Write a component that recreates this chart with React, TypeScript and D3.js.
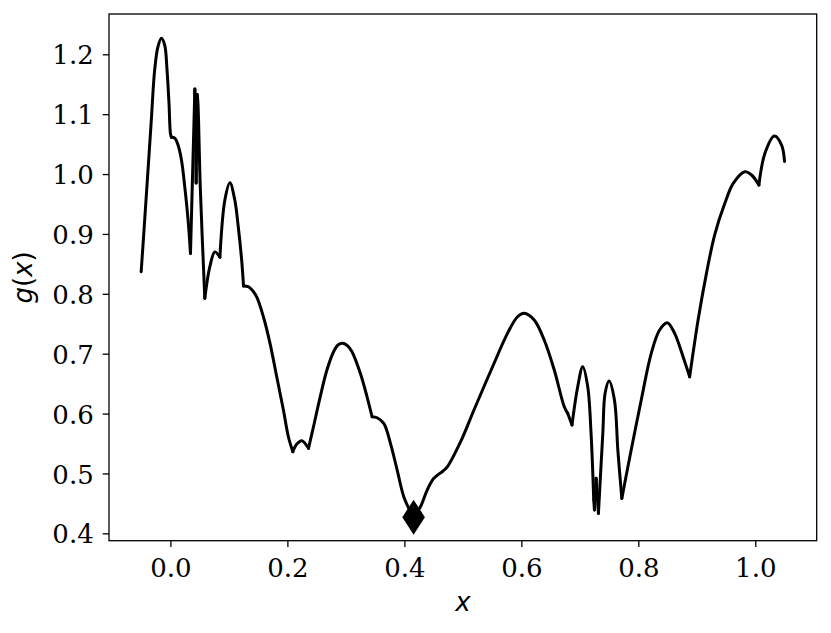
import React, { useRef, useEffect } from "react";
import * as d3 from "d3";

// curve (x, g(x))
const X_VALUES = [
  -0.05, -0.044, -0.033, -0.0269, -0.0213, -0.0154, -0.0098, -0.0058, -0.0024, 0.0,
  0.0017, 0.0074, 0.013, 0.0189, 0.0245, 0.0302, 0.0343, 0.0418, 0.044, 0.0458,
  0.047, 0.051, 0.0588, 0.0674, 0.076, 0.0846, 0.0931, 0.1017, 0.11, 0.116,
  0.1218, 0.125, 0.133, 0.14, 0.1475, 0.159, 0.1703, 0.1818, 0.1932, 0.2017,
  0.2093, 0.2161, 0.2247, 0.2361, 0.2446, 0.2561, 0.2676, 0.279, 0.287, 0.295,
  0.303, 0.3105, 0.3247, 0.3362, 0.3448, 0.3533, 0.3648, 0.3762, 0.3877, 0.399,
  0.4105, 0.4158, 0.4275, 0.439, 0.4504, 0.4648, 0.4734, 0.4962, 0.519, 0.5534,
  0.5763, 0.5935, 0.6048, 0.622, 0.6391, 0.6563, 0.6734, 0.6793, 0.6866, 0.6964,
  0.705, 0.7135, 0.7192, 0.7238, 0.725, 0.7278, 0.7318, 0.7393, 0.7432, 0.7500,
  0.7592, 0.765, 0.7718, 0.7878, 0.805, 0.8221, 0.8364, 0.8496, 0.8621, 0.8765,
  0.8878, 0.9022, 0.9165, 0.9307, 0.9479, 0.9623, 0.9822, 0.9937, 1.0062, 1.0165,
  1.0326, 1.045, 1.05,
];
const G_VALUES = [
  0.837, 0.923, 1.085, 1.174, 1.2127, 1.2267, 1.2155, 1.174, 1.118, 1.068,
  1.0614, 1.06, 1.0485, 1.0235, 0.979, 0.9233, 0.8676, 1.142, 0.985, 1.133,
  1.12, 0.98, 0.7925, 0.8453, 0.87, 0.861, 0.9567, 0.9856, 0.957, 0.912,
  0.8565, 0.813, 0.812, 0.806, 0.795, 0.7617, 0.7173, 0.6615, 0.606, 0.5613,
  0.5363, 0.549, 0.5547, 0.542, 0.578, 0.628, 0.6727, 0.7033, 0.715, 0.7173,
  0.713, 0.7033, 0.6672, 0.628, 0.5947, 0.593, 0.5837, 0.5503, 0.5057, 0.4612,
  0.436, 0.427, 0.4444, 0.4723, 0.4919, 0.503, 0.511, 0.553, 0.606, 0.684,
  0.734, 0.7617, 0.7674, 0.7563, 0.7228, 0.6727, 0.6114, 0.6004, 0.5809, 0.6449,
  0.6783, 0.645, 0.567, 0.4556, 0.439, 0.4919, 0.4334, 0.567, 0.6338, 0.6545,
  0.6227, 0.5391, 0.4584, 0.5391, 0.6227, 0.7006, 0.7395, 0.7517, 0.734, 0.695,
  0.6615, 0.7562, 0.8342, 0.899, 0.9511, 0.9845, 1.004, 0.9984, 0.9817, 1.0347,
  1.0635, 1.0485, 1.021,
];
// kinks and cusps where the curve is not smooth
const KINK_X = [
  0.0017, 0.0343, 0.0418, 0.044, 0.0458, 0.0588, 0.0846, 0.125, 0.2093, 0.2361,
  0.3448, 0.4158, 0.4648, 0.6793, 0.6866, 0.7238, 0.725, 0.7278, 0.7318, 0.7718,
  0.8878, 1.0062,
];
// the marked minimum
const MIN_X = 0.4158;
const MIN_G = 0.427;

const X_TICKS = [0.0, 0.2, 0.4, 0.6, 0.8, 1.0];
const Y_TICKS = [0.4, 0.5, 0.6, 0.7, 0.8, 0.9, 1.0, 1.1, 1.2];

export default function App() {
  const svgRef = useRef<SVGSVGElement>(null);

  useEffect(() => {
    document.body.style.margin = "0";
    const width = 831, height = 633;
    const margin = { top: 14, right: 14.3, bottom: 92.3, left: 109 };
    const tickFont = "'DejaVu Serif', serif";

    const x = d3.scaleLinear()
      .domain([-0.105, 1.105])
      .range([margin.left, width - margin.right]);
    const y = d3.scaleLinear()
      .domain([0.3877, 1.2673])
      .range([height - margin.bottom, margin.top]);

    const svg = d3.select(svgRef.current);
    svg.selectAll("*").remove();

    // split the curve at kinks, smooth each piece
    const pts: [number, number][] = X_VALUES.map((v, i) => [v, G_VALUES[i]]);
    const pieces: [number, number][][] = [];
    let cur: [number, number][] = [];
    pts.forEach(p => {
      cur.push(p);
      if (KINK_X.includes(p[0])) {
        pieces.push(cur);
        cur = [p];
      }
    });
    if (cur.length > 1) pieces.push(cur);

    const line = d3.line<[number, number]>()
      .x(d => x(d[0]))
      .y(d => y(d[1]))
      .curve(d3.curveCatmullRom.alpha(0.5));

    svg.append("g")
      .selectAll("path")
      .data(pieces)
      .join("path")
      .attr("d", d => line(d))
      .attr("fill", "none")
      .attr("stroke", "#000")
      .attr("stroke-width", 3)
      .attr("stroke-linecap", "round")
      .attr("stroke-linejoin", "round");

    // thin diamond marker
    const mx = x(MIN_X), my = y(MIN_G);
    svg.append("path")
      .attr("d", `M${mx},${my - 17.5}L${mx + 11.3},${my}L${mx},${my + 17.5}L${mx - 11.3},${my}Z`)
      .attr("fill", "#000");

    // x axis
    const xAxis = svg.append("g")
      .attr("transform", `translate(0,${height - margin.bottom})`)
      .call(d3.axisBottom(x).tickValues(X_TICKS).tickFormat(d3.format(".1f")).tickSize(6.3).tickPadding(8));
    xAxis.select(".domain").remove();
    xAxis.selectAll("line").attr("stroke", "#000").attr("stroke-width", 1.3);
    xAxis.selectAll("text")
      .attr("y", 0)
      .attr("dy", 0)
      .attr("transform", "translate(0,36)")
      .style("font-size", "26px")
      .style("font-family", tickFont)
      .style("fill", "#000");

    // y axis
    const yAxis = svg.append("g")
      .attr("transform", `translate(${margin.left},0)`)
      .call(d3.axisLeft(y).tickValues(Y_TICKS).tickFormat(d3.format(".1f")).tickSize(6.3).tickPadding(9));
    yAxis.select(".domain").remove();
    yAxis.selectAll("line").attr("stroke", "#000").attr("stroke-width", 1.3);
    yAxis.selectAll("text")
      .attr("dy", "0.37em")
      .style("font-size", "26px")
      .style("font-family", tickFont)
      .style("fill", "#000");

    // frame
    svg.append("rect")
      .attr("x", margin.left)
      .attr("y", margin.top)
      .attr("width", width - margin.left - margin.right)
      .attr("height", height - margin.top - margin.bottom)
      .attr("fill", "none")
      .attr("stroke", "#000")
      .attr("stroke-width", 1.3);

    svg.append("text")
      .attr("x", (margin.left + width - margin.right) / 2)
      .attr("y", 611)
      .attr("text-anchor", "middle")
      .style("font-size", "26px")
      .style("font-style", "italic")
      .style("font-family", "'DejaVu Sans', sans-serif")
      .text("x");

    svg.append("text")
      .attr("transform", `translate(32,${(margin.top + height - margin.bottom) / 2}) rotate(-90)`)
      .attr("text-anchor", "middle")
      .style("font-size", "26px")
      .style("font-family", "'DejaVu Sans', sans-serif")
      .call(t => {
        t.append("tspan").style("font-style", "italic").text("g");
        t.append("tspan").text("(");
        t.append("tspan").style("font-style", "italic").text("x");
        t.append("tspan").text(")");
      });
  }, []);

  return (
    <svg
      ref={svgRef}
      width={831}
      height={633}
      style={{ background: "#fff", display: "block" }}
    />
  );
}
